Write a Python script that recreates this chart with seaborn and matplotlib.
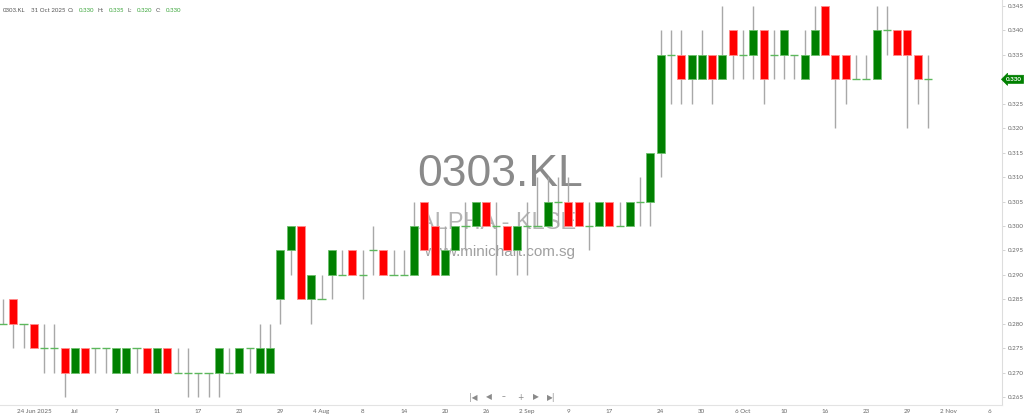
import matplotlib
matplotlib.use("Agg")
import matplotlib.pyplot as plt
import matplotlib.transforms as mtransforms
import pandas as pd
import seaborn as sns

# Chart style
sns.set_theme(style="white")
plt.rcParams['font.family'] = ['Lato', 'DejaVu Sans']

# -----------------------------------------
# Data: 0303.KL daily candles (trading days 19 Jun - 31 Oct 2025)
# -----------------------------------------
opens = [0.280, 0.285, 0.280, 0.280, 0.275, 0.275, 0.275, 0.270, 0.275, 0.275,
         0.275, 0.270, 0.270, 0.275, 0.275, 0.270, 0.275, 0.270, 0.270, 0.270,
         0.270, 0.270, 0.270, 0.270, 0.275, 0.270, 0.270, 0.285, 0.295, 0.300,
         0.285, 0.285, 0.290, 0.290, 0.295, 0.290, 0.295, 0.295, 0.290, 0.290,
         0.290, 0.305, 0.300, 0.290, 0.295, 0.300, 0.300, 0.305, 0.300, 0.300,
         0.295, 0.300, 0.300, 0.300, 0.305, 0.305, 0.305, 0.300, 0.300, 0.305,
         0.300, 0.300, 0.305, 0.305, 0.315, 0.335, 0.335, 0.330, 0.330, 0.335,
         0.330, 0.340, 0.335, 0.335, 0.340, 0.335, 0.335, 0.335, 0.330, 0.335,
         0.345, 0.335, 0.335, 0.330, 0.330, 0.330, 0.340, 0.340, 0.340, 0.335,
         0.330]
highs = [0.285, 0.285, 0.280, 0.280, 0.280, 0.280, 0.275, 0.275, 0.275, 0.275,
         0.275, 0.275, 0.275, 0.275, 0.275, 0.275, 0.275, 0.275, 0.275, 0.270,
         0.270, 0.275, 0.275, 0.275, 0.275, 0.280, 0.280, 0.295, 0.300, 0.300,
         0.290, 0.290, 0.295, 0.295, 0.295, 0.295, 0.300, 0.295, 0.295, 0.295,
         0.305, 0.305, 0.300, 0.300, 0.300, 0.305, 0.305, 0.305, 0.305, 0.300,
         0.300, 0.305, 0.310, 0.310, 0.310, 0.310, 0.305, 0.305, 0.305, 0.305,
         0.305, 0.305, 0.310, 0.315, 0.340, 0.340, 0.340, 0.335, 0.340, 0.335,
         0.345, 0.340, 0.340, 0.345, 0.340, 0.340, 0.340, 0.335, 0.340, 0.345,
         0.345, 0.335, 0.335, 0.335, 0.335, 0.345, 0.345, 0.340, 0.340, 0.335,
         0.335]
lows = [0.280, 0.275, 0.275, 0.275, 0.270, 0.270, 0.265, 0.270, 0.270, 0.270,
        0.270, 0.270, 0.270, 0.270, 0.270, 0.270, 0.270, 0.270, 0.265, 0.265,
        0.265, 0.265, 0.270, 0.270, 0.270, 0.270, 0.270, 0.280, 0.290, 0.285,
        0.280, 0.285, 0.285, 0.290, 0.290, 0.285, 0.290, 0.290, 0.290, 0.290,
        0.290, 0.295, 0.290, 0.290, 0.295, 0.295, 0.300, 0.300, 0.290, 0.295,
        0.290, 0.290, 0.300, 0.300, 0.300, 0.300, 0.300, 0.295, 0.300, 0.300,
        0.300, 0.300, 0.300, 0.300, 0.310, 0.325, 0.325, 0.325, 0.330, 0.325,
        0.330, 0.330, 0.330, 0.330, 0.325, 0.330, 0.330, 0.330, 0.330, 0.335,
        0.335, 0.320, 0.325, 0.330, 0.330, 0.330, 0.335, 0.335, 0.320, 0.325,
        0.320]
closes = [0.280, 0.280, 0.280, 0.275, 0.275, 0.275, 0.270, 0.275, 0.270, 0.275,
          0.275, 0.275, 0.275, 0.275, 0.270, 0.275, 0.270, 0.270, 0.270, 0.270,
          0.270, 0.275, 0.270, 0.275, 0.275, 0.275, 0.275, 0.295, 0.300, 0.285,
          0.290, 0.285, 0.295, 0.290, 0.290, 0.290, 0.295, 0.290, 0.290, 0.290,
          0.300, 0.295, 0.290, 0.295, 0.300, 0.300, 0.305, 0.300, 0.300, 0.295,
          0.300, 0.300, 0.300, 0.305, 0.305, 0.300, 0.300, 0.300, 0.305, 0.300,
          0.300, 0.305, 0.305, 0.315, 0.335, 0.335, 0.330, 0.335, 0.335, 0.330,
          0.335, 0.335, 0.335, 0.340, 0.330, 0.335, 0.340, 0.335, 0.335, 0.340,
          0.335, 0.330, 0.330, 0.330, 0.330, 0.340, 0.340, 0.335, 0.335, 0.330,
          0.330]

# date labels on the trading-day axis
tick_days = [3, 7, 11, 15, 19, 23, 27, 31, 35, 39, 43, 47, 51, 55, 59, 64,
             68, 72, 76, 80, 84, 88, 92, 96]
tick_labels = ["24 Jun 2025", "Jul", "7", "11", "17", "23", "29", "4 Aug", "8",
               "14", "20", "26", "2 Sep", "9", "17", "24", "30", "6 Oct", "10",
               "16", "23", "29", "2 Nov", "6"]
price_ticks = [0.265, 0.270, 0.275, 0.280, 0.285, 0.290, 0.295, 0.300, 0.305,
               0.310, 0.315, 0.320, 0.325, 0.330, 0.335, 0.340, 0.345]

df = pd.DataFrame({"open": opens, "high": highs, "low": lows, "close": closes})
df["day"] = range(len(df))
up = df[df.close > df.open]
down = df[df.close < df.open]
flat = df[df.close == df.open]

GREEN = "#008000"
RED = "#ff0000"

# -----------------------------------------
# Plot
# -----------------------------------------
fig = plt.figure(figsize=(10.24, 4.2), dpi=100)
ax = fig.add_axes([0, 0.0357, 0.9785, 0.9643])

# watermark behind the candles
ax.text(0.499, 0.570, "0303.KL", transform=ax.transAxes, ha="center", va="center",
        fontsize=32, color="#8a8a8a", family="Liberation Sans", zorder=0)
ax.text(0.497, 0.449, "ALPHA - KLSE", transform=ax.transAxes, ha="center", va="center",
        fontsize=17, color="#b5b5b5", family="Liberation Sans", zorder=0)
ax.text(0.499, 0.378, "www.minichart.com.sg", transform=ax.transAxes, ha="center",
        va="center", fontsize=11, color="#a0a0a0", family="Liberation Sans", zorder=0)

# wicks
ax.vlines(df.day, df.low, df.high, color="#a8a8a8", linewidth=1.0, zorder=2)
# bodies
ax.bar(up.day, up.close - up.open, bottom=up.open, width=0.78, color=GREEN,
       edgecolor="#6cc06c", linewidth=0.6, zorder=3)
ax.bar(down.day, down.open - down.close, bottom=down.close, width=0.78, color=RED,
       edgecolor="#ff8c8c", linewidth=0.6, zorder=3)
# unchanged days
ax.hlines(flat.close, flat.day - 0.4, flat.day + 0.4, color="#5cb85c",
          linewidth=1.0, zorder=3)

ax.set_xlim(-0.29, 97.2)
ax.set_ylim(0.26337, 0.34623)

ax.set_xticks(tick_days, tick_labels)
ax.set_yticks(price_ticks, [f"{p:.3f}" for p in price_ticks])
ax.yaxis.tick_right()
ax.tick_params(axis="x", length=0, pad=3, labelsize=4.5, labelcolor="#666666")
ax.tick_params(axis="y", right=True, left=False, length=2.5, width=0.6,
               color="#cccccc", pad=1.5, labelsize=4.5, labelcolor="#666666")
ax.grid(False)
for side in ["top", "left"]:
    ax.spines[side].set_visible(False)
ax.spines["right"].set_color("#dddddd")
ax.spines["bottom"].set_color("#e3e3e3")
ax.spines["right"].set_linewidth(0.8)
ax.spines["bottom"].set_linewidth(0.8)

# last price tag on the right axis
tag = mtransforms.blended_transform_factory(ax.transAxes, ax.transData)
ax.text(1.004, closes[-1], f"{closes[-1]:.3f}", transform=tag, ha="left", va="center",
        fontsize=4.5, color="white", fontweight="bold", clip_on=False,
        bbox=dict(boxstyle="larrow,pad=0.25", fc=GREEN, ec=GREEN, lw=0.5))

# header with the last candle
header = [("0303.KL", 3, "#555555"), ("31 Oct 2025", 31, "#555555"),
          ("O:", 68, "#555555"), (f"{opens[-1]:.3f}", 79, "#3aa53a"),
          ("H:", 98, "#555555"), (f"{highs[-1]:.3f}", 109, "#3aa53a"),
          ("L:", 127, "#555555"), (f"{lows[-1]:.3f}", 137, "#3aa53a"),
          ("C:", 156, "#555555"), (f"{closes[-1]:.3f}", 166, "#3aa53a")]
for txt, px, col in header:
    fig.text(px / 1024, 1 - 11 / 420, txt, ha="left", va="center",
             fontsize=4.4, color=col)

# navigation buttons
nav = ["|◀", "◀", "–", "+", "▶", "▶|"]
nav_x = [473, 489, 504, 520, 536, 551]
for sym, px in zip(nav, nav_x):
    fig.text(px / 1024, 1 - 397 / 420, sym, ha="center", va="center",
             fontsize=5.5, color="#8a8a8a", family="DejaVu Sans")

fig.savefig("out.png", dpi=100, facecolor="white")
